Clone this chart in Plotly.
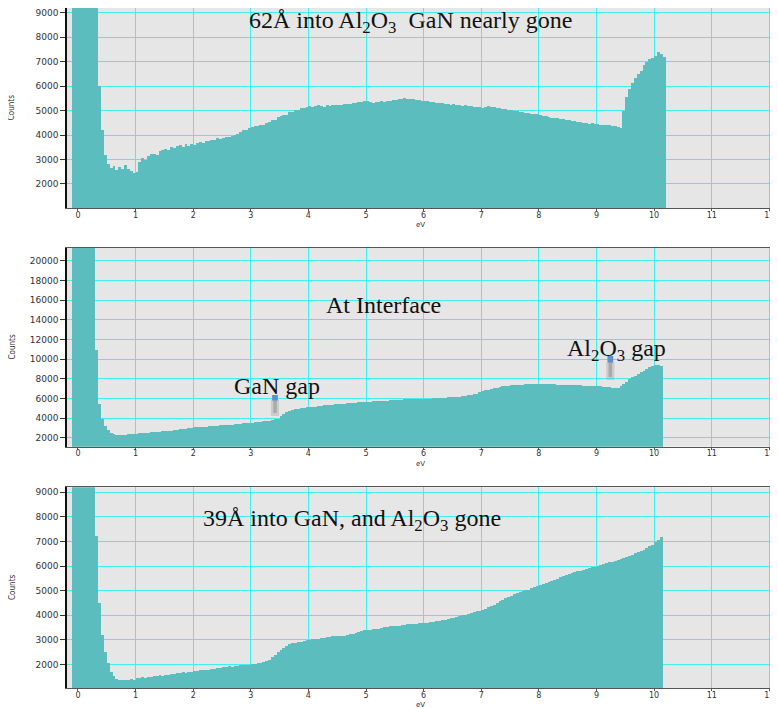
import plotly.graph_objects as go
from plotly.subplots import make_subplots

# ---------------- data (counts per 0.05 eV bin, bin start at -0.1 eV) ----------------
BIN_START = -0.1
BIN_WIDTH = 0.05
PEAK = 60000  # zero-loss peak, off scale

counts_62A_Al2O3 = [
    PEAK, PEAK, PEAK, PEAK, PEAK, PEAK, PEAK, PEAK, PEAK,
    6000, 4200, 3200, 2800, 2650, 2720, 2580, 2690, 2610, 2760, 2590, 2540, 2430, 2480,
    2900, 3080, 2980, 3150, 3220, 3240, 3190, 3360, 3400, 3420, 3380, 3510, 3470, 3560,
    3580, 3500, 3620, 3570, 3640, 3590, 3660, 3710, 3670, 3760, 3740, 3810, 3780, 3860,
    3820, 3880, 3910, 3930, 3950, 4010, 4060, 4110, 4190, 4220, 4270, 4310, 4360, 4370,
    4410, 4420, 4510, 4550, 4620, 4630, 4730, 4770, 4830, 4840, 4930, 4950, 5010, 5040,
    5090, 5110, 5140, 5170, 5140, 5190, 5210, 5180, 5160, 5220, 5190, 5220, 5240, 5230,
    5210, 5260, 5280, 5280, 5310, 5310, 5350, 5340, 5390, 5390, 5360, 5330, 5370, 5340,
    5380, 5370, 5410, 5380, 5430, 5450, 5480, 5470, 5520, 5490, 5470, 5480, 5430, 5450,
    5410, 5400, 5380, 5360, 5350, 5330, 5310, 5300, 5280, 5270, 5240, 5250, 5220, 5230,
    5200, 5210, 5180, 5200, 5160, 5160, 5130, 5120, 5150, 5170, 5140, 5160, 5110, 5100,
    5060, 5060, 5020, 5020, 4980, 4990, 4950, 4940, 4900, 4920, 4870, 4880, 4850, 4840,
    4790, 4770, 4720, 4710, 4680, 4680, 4640, 4650, 4610, 4610, 4570, 4580, 4540, 4540,
    4500, 4510, 4470, 4480, 4450, 4460, 4420, 4430, 4400, 4410, 4380, 4390, 4340, 4300,
    5000, 5550, 5900, 6150, 6330, 6480, 6620, 6850, 7000, 7100, 7150, 7250, 7380, 7300,
    7200,
]

counts_interface = [
    PEAK, PEAK, PEAK, PEAK, PEAK, PEAK, PEAK, PEAK,
    11000, 5500, 4000, 3200, 2800, 2550, 2420, 2380, 2350, 2370, 2380, 2400, 2420, 2460,
    2480, 2500, 2530, 2550, 2570, 2610, 2620, 2650, 2660, 2690, 2700, 2750, 2780, 2810,
    2850, 2900, 2950, 2980, 3020, 3060, 3100, 3130, 3150, 3170, 3190, 3230, 3240, 3270,
    3280, 3310, 3320, 3350, 3370, 3400, 3420, 3460, 3480, 3510, 3520, 3550, 3560, 3610,
    3640, 3690, 3720, 3770, 3800, 3860, 3920, 3980, 4250, 4450, 4650, 4780, 4860, 4950,
    5000, 5060, 5100, 5150, 5180, 5210, 5230, 5270, 5300, 5340, 5360, 5400, 5420, 5460,
    5480, 5510, 5530, 5560, 5570, 5610, 5620, 5660, 5670, 5700, 5700, 5730, 5740, 5770,
    5780, 5800, 5800, 5840, 5860, 5900, 5910, 5940, 5940, 5960, 5950, 5970, 5960, 5980,
    5960, 5980, 5970, 6010, 6030, 6070, 6080, 6110, 6110, 6140, 6150, 6180, 6190, 6210,
    6210, 6260, 6300, 6390, 6450, 6510, 6550, 6690, 6790, 6880, 6940, 7020, 7070, 7150,
    7200, 7270, 7310, 7350, 7370, 7400, 7410, 7440, 7450, 7480, 7480, 7490, 7490, 7480,
    7480, 7480, 7480, 7500, 7480, 7470, 7440, 7430, 7410, 7430, 7410, 7410, 7410, 7390,
    7370, 7360, 7340, 7340, 7320, 7320, 7310, 7290, 7250, 7220, 7170, 7130, 7070, 7150,
    7310, 7530, 7750, 7980, 8200, 8370, 8540, 8710, 8880, 9080, 9290, 9400, 9470, 9420,
    9360,
]

counts_39A_GaN = [
    PEAK, PEAK, PEAK, PEAK, PEAK, PEAK, PEAK, PEAK,
    7200, 4500, 3200, 2500, 2050, 1700, 1520, 1420, 1380, 1340, 1380, 1370, 1410, 1380,
    1430, 1440, 1470, 1440, 1500, 1490, 1530, 1520, 1560, 1530, 1580, 1580, 1610, 1610,
    1650, 1640, 1670, 1660, 1700, 1690, 1710, 1710, 1750, 1750, 1780, 1780, 1810, 1810,
    1850, 1850, 1880, 1870, 1910, 1900, 1940, 1930, 1960, 1950, 1980, 1980, 2010, 2010,
    2050, 2060, 2100, 2130, 2190, 2280, 2380, 2480, 2580, 2680, 2760, 2810, 2850, 2880,
    2900, 2920, 2950, 2970, 2990, 3010, 3040, 3040, 3070, 3080, 3110, 3110, 3140, 3140,
    3140, 3160, 3150, 3170, 3210, 3230, 3270, 3300, 3340, 3380, 3400, 3410, 3420, 3430,
    3450, 3460, 3500, 3510, 3540, 3540, 3560, 3560, 3580, 3590, 3620, 3620, 3650, 3650,
    3670, 3670, 3670, 3690, 3720, 3730, 3760, 3770, 3790, 3810, 3840, 3860, 3890, 3910,
    3950, 3980, 4010, 4050, 4090, 4110, 4150, 4180, 4210, 4260, 4320, 4370, 4420, 4490,
    4560, 4620, 4690, 4740, 4790, 4840, 4890, 4930, 4960, 5000, 5030, 5080, 5130, 5180,
    5230, 5270, 5310, 5350, 5390, 5440, 5480, 5530, 5570, 5610, 5650, 5690, 5730, 5770,
    5800, 5840, 5870, 5900, 5940, 5970, 6000, 6040, 6070, 6110, 6140, 6170, 6200, 6240,
    6270, 6310, 6360, 6400, 6450, 6500, 6550, 6600, 6650, 6720, 6790, 6860, 6950, 7050,
    7170,
]

panels = [counts_62A_Al2O3, counts_interface, counts_39A_GaN]

x_ticks = list(range(0, 13))
y_ticks_top = list(range(2000, 10000, 1000))
y_ticks_mid = list(range(2000, 22000, 2000))
y_ticks_bot = list(range(2000, 10000, 1000))

BAR_COLOR = "#5bbdbd"
GRID = "#3ef0f0"
BG = "#e6e6e6"

fig = make_subplots(rows=3, cols=1)

for i, c in enumerate(panels):
    energies = [round(BIN_START + BIN_WIDTH * k, 3) for k in range(len(c))]
    fig.add_trace(go.Bar(x=energies, y=c, width=BIN_WIDTH, offset=0,
                         marker=dict(color=BAR_COLOR, line=dict(width=0)),
                         showlegend=False, hoverinfo="x+y"), row=i + 1, col=1)

doms = [[0.7059, 1.0], [0.3549, 0.6475], [0.0, 0.2951]]
yranges = [[1013, 9200], [1115, 21350], [1048, 9200]]
yticks = [y_ticks_top, y_ticks_mid, y_ticks_bot]
ytickfont = dict(family="DejaVu Sans", size=9, color="#333333")
xtickfont = dict(family="DejaVu Sans", size=8, color="#333333")
small = dict(family="DejaVu Sans", size=7, color="#333333")

for i in range(3):
    sx = "" if i == 0 else str(i + 1)
    fig.layout["xaxis" + sx].update(
        domain=[0, 1], range=[-0.19, 12.15], tickvals=x_ticks,
        showgrid=True, gridcolor=GRID, gridwidth=1, zeroline=False,
        showline=True, linecolor="#555555", linewidth=1, mirror=True,
        ticks="outside", ticklen=2, tickcolor="#555555", tickfont=xtickfont,
        ticklabelstandoff=-3, automargin=False,
    )
    fig.layout["yaxis" + sx].update(
        domain=doms[i], range=yranges[i], tickvals=yticks[i], tickformat="d",
        showgrid=True, gridcolor=GRID, gridwidth=1, zeroline=False,
        showline=True, linecolor="#111111", linewidth=1.5,
        ticks="outside", ticklen=5, tickcolor="#333333", tickfont=ytickfont,
        automargin=False,
    )
    # axis titles as annotations for exact placement
    fig.add_annotation(x=-0.077, y=(doms[i][0] + doms[i][1]) / 2, xref="paper", yref="paper",
                       xanchor="center", yanchor="middle",
                       text="Counts", textangle=-90, showarrow=False,
                       font=dict(family="DejaVu Sans Condensed", size=8, color="#333333"))
    fig.add_annotation(x=0.4965, y=doms[i][0], xref="paper", yref="paper",
                       xanchor="center", yanchor="top", yshift=-12, borderpad=0,
                       text="eV", showarrow=False, font=small)

serif = dict(family="Liberation Serif", size=24, color="#111111")
fig.add_annotation(x=5.77, y=8620, xref="x", yref="y",
                   text="62Å into Al<sub>2</sub>O<sub>3</sub>  GaN nearly gone",
                   showarrow=False, font=serif)
fig.add_annotation(x=5.30, y=15530, xref="x2", yref="y2", text="At Interface",
                   showarrow=False, font=serif)
fig.add_annotation(x=3.46, y=7290, xref="x2", yref="y2", text="GaN gap",
                   showarrow=False, font=serif)
fig.add_annotation(x=9.35, y=10900, xref="x2", yref="y2",
                   text="Al<sub>2</sub>O<sub>3</sub> gap", showarrow=False, font=serif)
fig.add_annotation(x=4.75, y=7870, xref="x3", yref="y3",
                   text="39Å into GaN, and Al<sub>2</sub>O<sub>3</sub> gone",
                   showarrow=False, font=serif)

# marker squares with soft grey drop lines
for (x0, x1, ytop, ybot, ysq) in [(3.37, 3.47, 5865, 4237, 6373), (9.19, 9.29, 9730, 7900, 10340)]:
    fig.add_shape(type="rect", xref="x2", yref="y2", x0=x0 - 0.02, x1=x1 + 0.02, y0=ybot, y1=ytop,
                  fillcolor="#9a9a9a", opacity=0.35, line_width=0, layer="above")
    fig.add_shape(type="rect", xref="x2", yref="y2", x0=x0 + 0.02, x1=x1 - 0.02, y0=ybot + 300, y1=ytop,
                  fillcolor="#888888", opacity=0.5, line_width=0, layer="above")
    fig.add_shape(type="rect", xref="x2", yref="y2", x0=x0, x1=x1, y0=ytop - 60, y1=ysq,
                  fillcolor="#5b8fd6", line_width=0, layer="above")

fig.update_layout(
    width=770, height=700,
    margin=dict(l=59, r=0, t=0, b=20),
    paper_bgcolor="white", plot_bgcolor=BG,
    bargap=0,
)

fig.write_html("out.html")
